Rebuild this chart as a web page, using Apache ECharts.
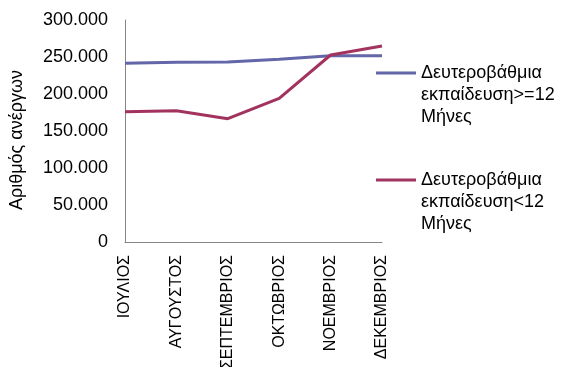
<!DOCTYPE html>
<html>
<head>
<meta charset="utf-8">
<script src="https://cdn.jsdelivr.net/npm/echarts@6/dist/echarts.min.js"></script>
<style>html,body{margin:0;padding:0;background:#fff}#c{width:563px;height:367px}</style>
</head>
<body>
<div id="c"></div>
<script>
var categories = ['ΙΟΥΛΙΟΣ','ΑΥΓΟΥΣΤΟΣ','ΣΕΠΤΕΜΒΡΙΟΣ','ΟΚΤΩΒΡΙΟΣ','ΝΟΕΜΒΡΙΟΣ','ΔΕΚΕΜΒΡΙΟΣ'];
var seriesNames = ['Δευτεροβάθμια\nεκπαίδευση>=12\nΜήνες','Δευτεροβάθμια\nεκπαίδευση<12\nΜήνες'];
var longTerm = [241500, 242800, 243200, 246900, 251800, 251800];
var shortTerm = [176100, 177400, 166600, 194200, 252700, 264900];
var yTicks = [0, 50000, 100000, 150000, 200000, 250000, 300000];
var yAxisTitle = 'Αριθμός ανέργων';

var FONT = 'Liberation Sans';
function fmt(v){ return String(v).replace(/\B(?=(\d{3})+(?!\d))/g, '.'); }
var chart = echarts.init(document.getElementById('c'), null, {renderer:'canvas'});
var legendText = {fontFamily: FONT, fontSize: 18, color: '#000', lineHeight: 22};
function legendFmt(n){ return '\n\n' + n; }
chart.setOption({
  animation: false,
  grid: {left: 125, right: 181, top: 20, bottom: 125, containLabel: false, outerBoundsMode: 'none'},
  legend: [
    {data: [seriesNames[0]], orient: 'vertical', left: 376, top: 18, itemWidth: 40, itemHeight: 3, itemGap: 0, icon: 'rect', textStyle: legendText, padding: 0, formatter: legendFmt},
    {data: [seriesNames[1]], orient: 'vertical', left: 376, top: 125, itemWidth: 40, itemHeight: 3, itemGap: 0, icon: 'rect', textStyle: legendText, padding: 0, formatter: legendFmt}
  ],
  xAxis: {
    type: 'category', data: categories, boundaryGap: false,
    axisLine: {lineStyle: {color: '#868686', width: 1}},
    axisTick: {show: false},
    axisLabel: {rotate: 90, fontFamily: FONT, fontSize: 16, color: '#000', margin: 13, interval: 0}
  },
  yAxis: {
    type: 'value', min: yTicks[0], max: yTicks[yTicks.length-1], interval: yTicks[1]-yTicks[0],
    name: yAxisTitle, nameLocation: 'middle', nameRotate: 90, nameGap: 99,
    nameTextStyle: {fontFamily: FONT, fontSize: 18, color: '#000', padding: [0, 18, 0, 0]},
    axisLine: {show: true, lineStyle: {color: '#868686', width: 1}},
    axisTick: {show: false},
    splitLine: {show: false},
    axisLabel: {fontFamily: FONT, fontSize: 18, color: '#000', margin: 17, formatter: fmt}
  },
  series: [
    {name: seriesNames[0], type: 'line', data: longTerm, symbol: 'none', lineStyle: {color: '#6366A8', width: 3}, itemStyle: {color: '#6366A8'}},
    {name: seriesNames[1], type: 'line', data: shortTerm, symbol: 'none', lineStyle: {color: '#A2335F', width: 3}, itemStyle: {color: '#A2335F'}}
  ]
});
</script>
</body>
</html>
